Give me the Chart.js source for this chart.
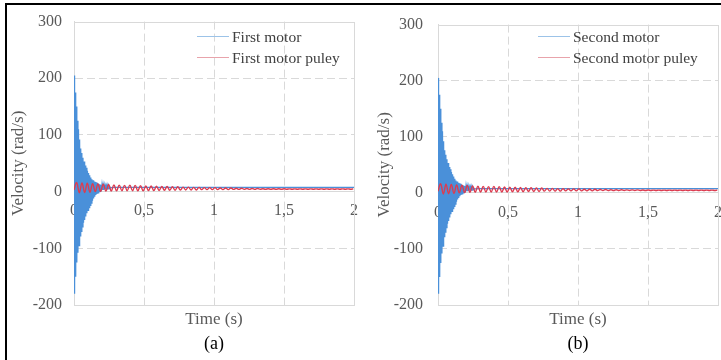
<!DOCTYPE html>
<html>
<head>
<meta charset="utf-8">
<script src="https://cdn.jsdelivr.net/npm/chart.js@4.4.0/dist/chart.umd.min.js"></script>
<style>
html,body{margin:0;padding:0;background:#fff;}
body{width:721px;height:360px;position:relative;overflow:hidden;font-family:"Liberation Serif","Times New Roman",serif;}
#frame{position:absolute;left:5px;top:3px;width:800px;height:420px;border-top:2px solid #000;border-left:2px solid #000;box-sizing:border-box;}
canvas{position:absolute;top:0;}
.txt{position:absolute;white-space:nowrap;line-height:1;}
.ctr{transform:translate(-50%,-50%);}
.mid{transform:translateY(-50%);}
.swatch{position:absolute;height:1px;}
</style>
</head>
<body>
<div id="frame"></div>
<canvas id="chartA" width="360" height="360" style="left:0px"></canvas>
<canvas id="chartB" width="361" height="360" style="left:360px"></canvas>
<script>
// ---------------- data ----------------
const timeTicks = [0, 0.5, 1, 1.5, 2];
const timeTickLabels = ['0', '0,5', '1', '1,5', '2'];
const velocityTicks = [-200, -100, 0, 100, 200, 300];

// motor velocity: fast oscillation (sampled every motorBurstStep s) then settled tail
const motorBurstStep = 0.004;
const firstMotorBurst = [205,-180,175,-150,150,-125,125,-108,110,-95,92,-78,76,-70,68,-62,60,-55,53,-50,46,-44,42,-38,37,-33,33,-28,29,-24,25,-20,22,-16,20,-12,18,-9,17,-6,16,-4,15,-2,14,0,13,1,12,2,12,3,11,3,11,4,10,4,10,5,9,5,9,6,8,7];
const firstMotorTailTime = [0.3, 1, 2];
const firstMotorTailVel = [7.5, 7.5, 7.5];

// pulley velocity sampled every puleyStep s (peaks and troughs)
const puleyStep = 0.019;
const firstPuley = [3,16,-2,15.5,-1.5,15,-1,14,0,13.5,0.5,13,1,12.5,1,12,1.5,11.5,1.5,11,
  1.5,11.5,1.5,11,1.5,10.5,1.5,10,2,10,2,9.5,2,9,2.5,9,2.5,8.5,2.5,8.5,3,8,3,8,3,7.5,3,7.5,3.5,7,3.5,7,3.5,7,3.5,6.5,3.5,6.5,3.5,6.5,4,
  6,4,6,4,5.5,4,5.5,4,5.5,4.2,5.2,4.2,5.2,4.2,5.2,4.2,5,4.2,5,
  4.3,4.9,4.3,4.9,4.3,4.9,4.3,4.9,4.3,4.9,4.3,4.9,4.3,4.9,4.3,4.9,4.3,4.9,4.3,4.9,4.3,4.9,4.3,4.9,4.3,4.9];

const secondMotorBurst = [205,-180,175,-150,150,-125,125,-108,110,-95,92,-78,76,-70,68,-62,60,-55,53,-50,46,-44,42,-38,37,-33,33,-28,29,-24,25,-20,22,-16,20,-12,18,-9,17,-6,16,-4,15,-2,14,0,13,1,12,2,12,3,11,3,11,4,10,4,10,5,9,5,9,6,8,7];
const secondMotorTailTime = [0.3, 1, 2];
const secondMotorTailVel = [7.5, 7.5, 7.5];
const secondPuley = [3,16,-2,15.5,-1.5,15,-1,14,0,13.5,0.5,13,1,12.5,1,12,1.5,11.5,1.5,11,
  1.5,11.5,1.5,11,1.5,10.5,1.5,10,2,10,2,9.5,2,9,2.5,9,2.5,8.5,2.5,8.5,3,8,3,8,3,7.5,3,7.5,3.5,7,3.5,7,3.5,7,3.5,6.5,3.5,6.5,3.5,6.5,4,
  6,4,6,4,5.5,4,5.5,4,5.5,4.2,5.2,4.2,5.2,4.2,5.2,4.2,5,4.2,5,
  4.3,4.9,4.3,4.9,4.3,4.9,4.3,4.9,4.3,4.9,4.3,4.9,4.3,4.9,4.3,4.9,4.3,4.9,4.3,4.9,4.3,4.9,4.3,4.9,4.3,4.9];

const seriesLabelsA = ['First motor', 'First motor puley'];
const seriesLabelsB = ['Second motor', 'Second motor puley'];
const yTitle = 'Velocity (rad/s)';
const xTitle = 'Time (s)';

// ---------------- styling ----------------
const FONT = '"Liberation Serif", "Times New Roman", serif';
const GREY_TEXT = '#595959';
const GRID = '#d9d9d9';
const BLUE = '#4a90d9';
const RED = '#dc3c50';
const SWATCH = ['#9cc3e8', '#e8a3ab'];

function motorPoints(burst, tailT, tailV) {
  const pts = burst.map((v, i) => ({x: i * motorBurstStep, y: v}));
  tailT.forEach((t, i) => pts.push({x: t, y: tailV[i]}));
  return pts;
}
function puleyPoints(vals) {
  return vals.map((v, i) => ({x: i * puleyStep, y: v}));
}

const framePlugin = {
  id: 'frame',
  beforeDatasetsDraw(chart) {
    const a = chart.chartArea, ctx = chart.ctx;
    ctx.save();
    ctx.strokeStyle = GRID;
    ctx.lineWidth = 1;
    ctx.strokeRect(Math.round(a.left) + 0.5, Math.round(a.top) + 0.5,
                   Math.round(a.right - a.left), Math.round(a.bottom - a.top));
    ctx.restore();
  }
};

function makeChart(id, cfg) {
  const W = cfg.width;
  return new Chart(document.getElementById(id), {
    type: 'line',
    data: {
      datasets: [
        {label: cfg.labels[0], data: cfg.motor, borderColor: BLUE, borderWidth: 1.3,
         pointRadius: 0, tension: 0, order: 1},
        {label: cfg.labels[1], data: cfg.puley, borderColor: RED, borderWidth: 1.4,
         pointRadius: 0, tension: 0.4, order: 0}
      ]
    },
    plugins: [framePlugin],
    options: {
      responsive: false, animation: false, devicePixelRatio: 1,
      parsing: false, normalized: true,
      layout: {autoPadding: false, padding: {left: 0, top: 21, right: W - cfg.plotRight, bottom: 55}},
      plugins: {legend: {display: false}, tooltip: {enabled: false}},
      scales: {
        x: {
          type: 'linear', min: 0, max: 2, position: {y: 0}, z: 1,
          afterBuildTicks: s => { s.ticks = timeTicks.map(v => ({value: v})); },
          afterFit: s => { s.height = 0; s.paddingLeft = 0; s.paddingRight = 0; },
          grid: {drawTicks: false, lineWidth: 1,
                 color: c => (c.tick && c.tick.value > 0 && c.tick.value < 2) ? GRID : 'rgba(0,0,0,0)'},
          border: {display: true, color: GRID, width: 1, dash: [8, 4]},
          ticks: {padding: 10, color: GREY_TEXT, font: {family: FONT, size: 16},
                  maxRotation: 0, autoSkip: false,
                  callback: (v, i) => timeTickLabels[i]}
        },
        y: {
          type: 'linear', min: -200, max: 300,
          afterBuildTicks: s => { s.ticks = velocityTicks.map(v => ({value: v})); },
          afterFit: s => { s.width = cfg.plotLeft; },
          grid: {drawTicks: false, lineWidth: 1,
                 color: c => (c.tick && [100, 200, -100].includes(c.tick.value)) ? GRID : 'rgba(0,0,0,0)'},
          border: {display: true, color: GRID, width: 1, dash: [8, 4]},
          ticks: {padding: cfg.yPad, color: GREY_TEXT, font: {family: FONT, size: 16},
                  callback: v => String(v)},
          title: {display: true, text: yTitle, color: GREY_TEXT,
                  font: {family: FONT, size: 17}, padding: {top: cfg.titlePad, bottom: 0}}
        }
      }
    }
  });
}

const panels = [
  {id: 'chartA', left: 0, width: 360, plotLeft: 74, plotRight: 354, yPad: 12, titlePad: 8,
   labels: seriesLabelsA, tag: '(a)',
   motor: motorPoints(firstMotorBurst, firstMotorTailTime, firstMotorTailVel),
   puley: puleyPoints(firstPuley), legendX: 197},
  {id: 'chartB', left: 360, width: 361, plotLeft: 78, plotRight: 358, yPad: 15, titlePad: 14,
   labels: seriesLabelsB, tag: '(b)',
   motor: motorPoints(secondMotorBurst, secondMotorTailTime, secondMotorTailVel),
   puley: puleyPoints(secondPuley), legendX: 538}
];

panels.forEach(p => {
  const chart = makeChart(p.id, p);
  // correct the right edge of the plot area if the layout reserved extra room
  for (let k = 0; k < 3; k++) {
    const diff = p.plotRight - chart.chartArea.right;
    if (Math.abs(diff) < 0.5) break;
    chart.options.layout.padding.right -= diff;
    chart.update();
  }
  const area = chart.chartArea;
  const cx = p.left + (area.left + area.right) / 2;
  const addText = (txt, x, y, cls, css) => {
    const d = document.createElement('div');
    d.className = 'txt ' + cls;
    d.textContent = txt;
    d.style.left = x + 'px'; d.style.top = y + 'px';
    Object.assign(d.style, css);
    document.body.appendChild(d);
  };
  addText(xTitle, cx, 318, 'ctr', {fontSize: '17px', color: GREY_TEXT});
  addText(p.tag, cx, 343, 'ctr', {fontSize: '18px', color: '#000'});
  // legend built from dataset labels
  chart.data.datasets.forEach((ds, i) => {
    const y = 36 + i * 21;
    const sw = document.createElement('div');
    sw.className = 'swatch';
    sw.style.left = p.legendX + 'px'; sw.style.top = y + 'px'; sw.style.width = '32px';
    sw.style.background = SWATCH[i];
    document.body.appendChild(sw);
    addText(ds.label, p.legendX + 35, y + 1, 'mid', {fontSize: '15.5px', color: '#404040'});
  });
});
</script>
</body>
</html>
